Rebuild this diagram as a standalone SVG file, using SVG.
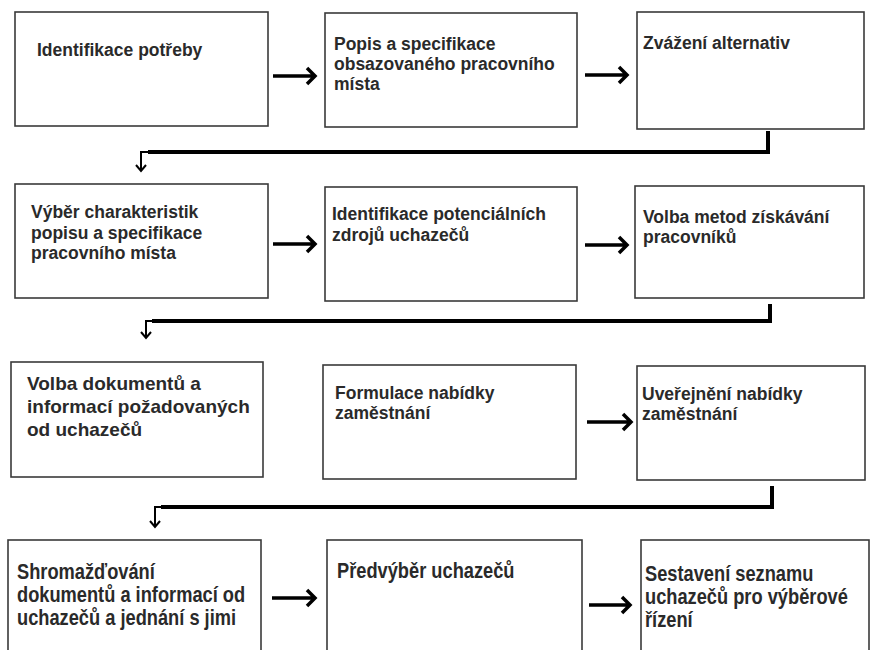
<svg xmlns="http://www.w3.org/2000/svg" width="876" height="650" viewBox="0 0 876 650">
<style>
.box{fill:#fff;stroke:#3a3a3a;stroke-width:1.6}
.t{font-family:"Liberation Sans",Arial,sans-serif;font-weight:bold;font-size:17.5px;fill:#2a2a2a}
.t19{font-size:19px}
.tn{font-family:"Liberation Sans",Arial,sans-serif;font-weight:bold;font-size:22px;fill:#2a2a2a}
.ar{fill:none;stroke:#000;stroke-width:3.5;stroke-linejoin:miter}
.thick{fill:none;stroke:#000;stroke-width:4}
.thin{fill:none;stroke:#000;stroke-width:2}
</style>
<rect width="876" height="650" fill="#fff"/>
<g id="n1"><rect class="box" x="15" y="12" width="253" height="114"/><text class="t" x="37" y="56">Identifikace potřeby</text></g>
<g id="n2"><rect class="box" x="325" y="13" width="252" height="114"/><text class="t" x="334" y="50">Popis a specifikace<tspan x="334" dy="20">obsazovaného pracovního</tspan><tspan x="334" dy="20">místa</tspan></text></g>
<g id="n3"><rect class="box" x="637" y="12" width="227" height="117"/><text class="t" x="643" y="49">Zvážení alternativ</text></g>
<g id="n4"><rect class="box" x="15" y="184" width="253" height="114"/><text class="t" x="31" y="218">Výběr charakteristik<tspan x="31" dy="20.5">popisu a specifikace</tspan><tspan x="31" dy="20.5">pracovního místa</tspan></text></g>
<g id="n5"><rect class="box" x="325" y="187" width="252" height="114"/><text class="t" x="332" y="220">Identifikace potenciálních<tspan x="332" dy="21">zdrojů uchazečů</tspan></text></g>
<g id="n6"><rect class="box" x="635" y="186" width="229" height="112"/><text class="t" x="643" y="223">Volba metod získávání<tspan x="643" dy="20">pracovníků</tspan></text></g>
<g id="n7"><rect class="box" x="11" y="362" width="252" height="115"/><text class="t t19" x="27" y="390">Volba dokumentů a<tspan x="27" dy="23">informací požadovaných</tspan><tspan x="27" dy="23">od uchazečů</tspan></text></g>
<g id="n8"><rect class="box" x="323" y="365" width="253" height="114"/><text class="t" x="335" y="399">Formulace nabídky<tspan x="335" dy="20">zaměstnání</tspan></text></g>
<g id="n9"><rect class="box" x="637" y="366" width="228" height="114"/><text class="t" x="642" y="400">Uveřejnění nabídky<tspan x="642" dy="20">zaměstnání</tspan></text></g>
<g id="n10"><rect class="box" x="8" y="540" width="253" height="130"/><text class="tn" transform="translate(17,579) scale(0.83,1)">Shromažďování<tspan x="0" dy="23">dokumentů a informací od</tspan><tspan x="0" dy="23">uchazečů a jednání s jimi</tspan></text></g>
<g id="n11"><rect class="box" x="327" y="540" width="255" height="130"/><text class="tn" transform="translate(337,578) scale(0.83,1)">Předvýběr uchazečů</text></g>
<g id="n12"><rect class="box" x="641" y="540" width="228" height="130"/><text class="tn" transform="translate(645,581) scale(0.83,1)">Sestavení seznamu<tspan x="0" dy="23">uchazečů pro výběrové</tspan><tspan x="0" dy="23">řízení</tspan></text></g>
<g id="connectors">
<path class="ar" d="M273 76H315M307 68L315 76L307 84"/>
<path class="ar" d="M585 75H627M619 67L627 75L619 83"/>
<path class="ar" d="M273 244H315M307 236L315 244L307 252"/>
<path class="ar" d="M585 245H627M619 237L627 245L619 253"/>
<path class="ar" d="M587 422H631M623 414L631 422L623 430"/>
<path class="ar" d="M272 598H315M307 590L315 598L307 606"/>
<path class="ar" d="M589 605H630M622 597L630 605L622 613"/>
<path class="thick" d="M768 131V152H148"/>
<path class="thin" d="M150 152H141V171M136 165L141 171L146 165"/>
<path class="thick" d="M770 304V321H152"/>
<path class="thin" d="M154 321H146V338M141 332L146 338L151 332"/>
<path class="thick" d="M772 486V507H161"/>
<path class="thin" d="M163 507H155V527M150 521L155 527L160 521"/>
</g>
</svg>
